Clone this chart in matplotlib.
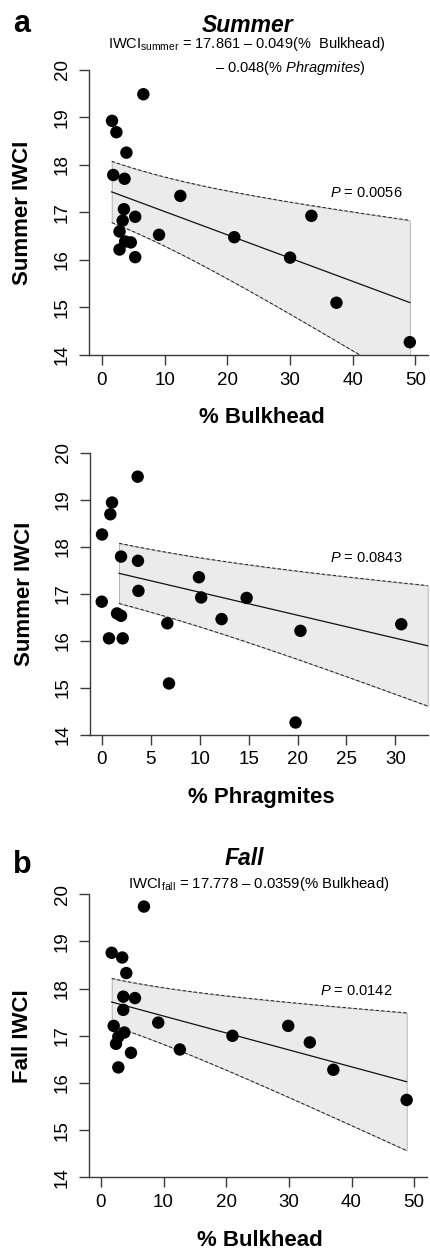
import matplotlib
matplotlib.use('Agg')
import matplotlib.pyplot as plt
import numpy as np

plt.rcParams['font.family'] = ['Liberation Sans', 'DejaVu Sans']
plt.rcParams['mathtext.fontset'] = 'custom'
plt.rcParams['mathtext.rm'] = 'Liberation Sans'
plt.rcParams['mathtext.it'] = 'Liberation Sans:italic'
plt.rcParams['mathtext.bf'] = 'Liberation Sans:bold'

# ---------------- data ----------------
# Panel a (top): Summer IWCI vs % Bulkhead
bulk_summer = [6.6, 1.6, 2.3, 3.9, 1.8, 3.6, 12.5, 3.5, 3.3, 5.3, 9.1, 2.8, 2.8,
               4.6, 3.7, 5.3, 21.1, 33.4, 30.0, 37.4, 49.1]
iwci_summer_bulk = [19.49, 18.93, 18.69, 18.26, 17.79, 17.71, 17.35, 17.07, 16.83,
                    16.91, 16.53, 16.60, 16.22, 16.37, 16.39, 16.06, 16.48, 16.93,
                    16.05, 15.10, 14.27]
fit_a = (17.51, -0.049)                 # intercept, slope of drawn line
band_a_x = [1.55, 18.0, 49.1]           # confidence band half-widths read at x
band_a_hw = [0.645, 0.88, 1.73]

# Panel a (middle): Summer IWCI vs % Phragmites
phrag_summer = [3.67, 1.05, 0.88, 0.03, 1.97, 3.70, 9.93, 3.75, 10.16, 0.0, 1.56,
                1.97, 6.70, 0.74, 2.14, 6.87, 12.24, 14.8, 20.3, 30.6, 19.8]
iwci_summer_phrag = [19.49, 18.94, 18.69, 18.26, 17.79, 17.70, 17.35, 17.06, 16.92,
                     16.83, 16.58, 16.53, 16.37, 16.05, 16.05, 15.09, 16.46, 16.91,
                     16.21, 16.35, 14.26]
fit_p = (17.52, -0.0489)
band_p_x = [1.77, 11.56, 21.8, 33.3]
band_p_hw = [0.645, 0.75, 0.99, 1.28]

# Panel b: Fall IWCI vs % Bulkhead
bulk_fall = [6.87, 1.72, 3.40, 4.05, 3.57, 5.44, 3.57, 9.15, 2.04, 3.74, 2.78, 2.41,
             4.80, 12.6, 2.78, 21.0, 29.9, 33.35, 37.1, 48.8]
iwci_fall = [19.74, 18.76, 18.66, 18.33, 17.83, 17.80, 17.55, 17.28, 17.21, 17.07,
             16.98, 16.83, 16.64, 16.71, 16.33, 17.00, 17.21, 16.86, 16.28, 15.64]
fit_b = (17.778, -0.0359)
band_b_x = [1.72, 18.2, 48.8]
band_b_hw = [0.50, 0.75, 1.46]

y_ticks = [14, 15, 16, 17, 18, 19, 20]
x_ticks_bulk = [0, 10, 20, 30, 40, 50]
x_ticks_phrag = [0, 5, 10, 15, 20, 25, 30]

# ---------------- layout ----------------
W, H = 430, 1249
fig = plt.figure(figsize=(W / 100, H / 100), dpi=100)

def add_ax(left, right, top, bottom):
    return fig.add_axes([left / W, 1 - bottom / H, (right - left) / W, (bottom - top) / H])

def ftxt(px, py, s, **kw):
    fig.text(px / W, 1 - py / H, s, **kw)

SPINE = '#3a3a3a'

def draw_panel(ax, x, y, fit, bx, bhw, xlim, xticks):
    bx = np.asarray(bx, float)
    bhw = np.asarray(bhw, float)
    # smooth confidence band: hw^2 quadratic in x (standard CI form), fitted to readings
    coef = np.polyfit(bx, bhw ** 2, 2)
    xs = np.linspace(bx[0], bx[-1], 200)
    hw = np.sqrt(np.polyval(coef, xs))
    line = fit[0] + fit[1] * xs
    ax.fill_between(xs, line - hw, line + hw, facecolor='#ebebeb',
                    edgecolor='#a8a8a8', linewidth=0.6, zorder=1)
    ax.plot(xs, line + hw, color='#222222', lw=0.7, ls=(0, (3.5, 2.2)), zorder=2)
    ax.plot(xs, line - hw, color='#222222', lw=0.7, ls=(0, (3.5, 2.2)), zorder=2)
    ax.plot(xs, line, color='#111111', lw=0.9, zorder=3)
    ax.scatter(x, y, s=80, color='black', edgecolors='none', zorder=4, clip_on=False)
    ax.set_xlim(*xlim)
    ax.set_ylim(14, 20)
    ax.set_xticks(xticks)
    ax.set_yticks(y_ticks)
    for side in ('top', 'right'):
        ax.spines[side].set_visible(False)
    for side in ('left', 'bottom'):
        ax.spines[side].set_color(SPINE)
        ax.spines[side].set_linewidth(1.0)
    ax.tick_params(direction='out', length=7, width=1.0, color=SPINE,
                   labelsize=13.5, pad=5)
    ax.tick_params(axis='y', labelrotation=90, pad=6)
    for lab in ax.get_yticklabels():
        lab.set_va('center')

ax_a = add_ax(89, 428, 70, 355)
draw_panel(ax_a, bulk_summer, iwci_summer_bulk, fit_a, band_a_x, band_a_hw,
           (-2.07, 52.0), x_ticks_bulk)
ax_p = add_ax(90, 427.7, 452.7, 734.7)
draw_panel(ax_p, phrag_summer, iwci_summer_phrag, fit_p, band_p_x, band_p_hw,
           (-1.2, 33.3), x_ticks_phrag)
ax_b = add_ax(89, 426.7, 894.3, 1177.3)
draw_panel(ax_b, bulk_fall, iwci_fall, fit_b, band_b_x, band_b_hw,
           (-1.9, 52.0), x_ticks_bulk)

# ---------------- text ----------------
EQ = 10.5
LAB = 16
# panel a
ftxt(13, 32, 'a', fontsize=22, fontweight='bold', ha='left', va='baseline')
ftxt(247.5, 31.7, 'Summer', fontsize=16.5, fontweight='bold', fontstyle='italic',
     ha='center', va='baseline')
ftxt(108.3, 48.3, r'IWCI$_{\mathregular{summer}}$ = 17.861 – 0.049(%  Bulkhead)',
     fontsize=EQ, ha='left', va='baseline')
ftxt(215, 71.7, r'– 0.048(% $\it{Phragmites}$)', fontsize=EQ, ha='left', va='baseline')
ftxt(330, 196.7, r'$\it{P}$ = 0.0056', fontsize=EQ, ha='left', va='baseline')
ftxt(262, 423.4, '% Bulkhead', fontsize=LAB, fontweight='bold', ha='center', va='baseline')
ftxt(23, 212.5, 'Summer IWCI', fontsize=LAB, fontweight='bold', rotation=90,
     ha='center', va='center')

# middle panel
ftxt(330, 561.7, r'$\it{P}$ = 0.0843', fontsize=EQ, ha='left', va='baseline')
ftxt(261, 803, '% Phragmites', fontsize=LAB, fontweight='bold', ha='center', va='baseline')
ftxt(25, 593.7, 'Summer IWCI', fontsize=LAB, fontweight='bold', rotation=90,
     ha='center', va='center')

# panel b
ftxt(13, 873, 'b', fontsize=22, fontweight='bold', ha='left', va='baseline')
ftxt(244.7, 865, 'Fall', fontsize=16.5, fontweight='bold', fontstyle='italic',
     ha='center', va='baseline')
ftxt(127.7, 888, r'IWCI$_{\mathregular{fall}}$ = 17.778 – 0.0359(% Bulkhead)',
     fontsize=EQ + 0.2, ha='left', va='baseline')
ftxt(320, 995, r'$\it{P}$ = 0.0142', fontsize=EQ, ha='left', va='baseline')
ftxt(260, 1245.7, '% Bulkhead', fontsize=LAB, fontweight='bold', ha='center', va='baseline')
ftxt(23, 1035.8, 'Fall IWCI', fontsize=LAB, fontweight='bold', rotation=90,
     ha='center', va='center')

fig.savefig('out.png', dpi=100)
